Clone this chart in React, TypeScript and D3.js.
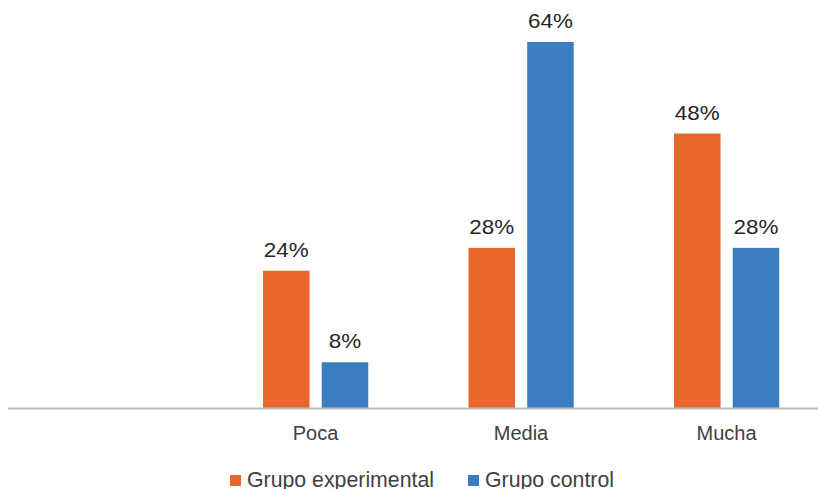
import React from "react";
import * as d3 from "d3";

const categories = ["", "Poca", "Media", "Mucha"];
const seriesNames = ["Grupo experimental", "Grupo control"];
const experimental = [null, 24, 28, 48];
const control = [null, 8, 64, 28];
const colors = ["#E8662C", "#3A7DC1"];

const W = 818;
const H = 489;

export default function App() {
  const x = d3.scaleBand<string>().domain(categories.map((c, i) => String(i))).range([7.25, 829.25]).paddingInner(0).paddingOuter(0);
  const y = d3.scaleLinear().domain([0, 64]).range([408, 42]);
  const inner = d3.scaleBand<string>().domain(["0", "1"]).range([50.25, 155.5]).paddingInner(0.207).paddingOuter(0);
  const series = [experimental, control];
  return (
    <svg width={W} height={H} style={{ position: "absolute", left: 0, top: 0, fontFamily: "'Liberation Sans', Arial, sans-serif" }}>
      <rect width={W} height={H} fill="#fff" />
      {series.map((vals, si) =>
        vals.map((v, ci) => {
          if (v == null) return null;
          const bx = (x(String(ci)) as number) + (inner(String(si)) as number);
          const bw = inner.bandwidth();
          return (
            <g key={`${si}-${ci}`}>
              <rect x={bx} y={y(v)} width={bw} height={y(0) - y(v)} fill={colors[si]} />
              <text
                transform={`translate(${bx + bw / 2},${y(v) - 14}) scale(1.15,1)`}
                textAnchor="middle"
                fontSize={19.5}
                fill="#262626"
              >
                {v}%
              </text>
            </g>
          );
        })
      )}
      <line x1={8} x2={W} y1={408.5} y2={408.5} stroke="#BFBFBF" strokeWidth={2} />
      {categories.map((c, i) => (
        <text key={i} x={(x(String(i)) as number) + x.bandwidth() / 2} y={440} textAnchor="middle" fontSize={20} fill="#404040">
          {c}
        </text>
      ))}
      {seriesNames.map((n, i) => {
        const lx = [230, 468][i];
        return (
          <g key={n}>
            <rect x={lx} y={475} width={11} height={11} fill={colors[i]} />
            <text x={lx + 17} y={487} fontSize={21.3} fill="#404040">
              {n}
            </text>
          </g>
        );
      })}
    </svg>
  );
}
